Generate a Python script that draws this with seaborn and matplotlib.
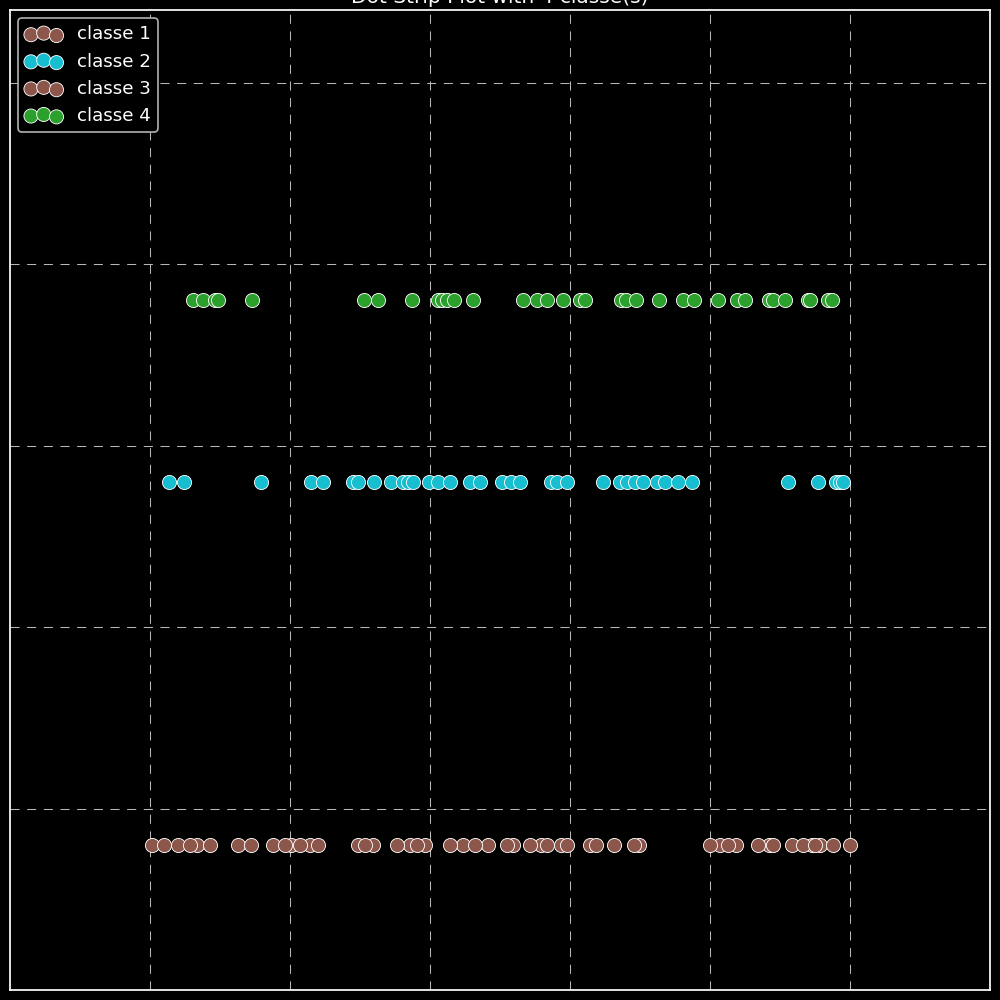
import matplotlib
matplotlib.use("Agg")
import matplotlib.pyplot as plt
import seaborn as sns
import pandas as pd

# ---- data ----
classes = ["classe 1", "classe 2", "classe 3", "classe 4"]
class_colors = ["#8c564b", "#17becf", "#8c564b", "#2ca02c"]
class_rows = [0.0, 2.0, 0.0, 3.0]

brown_x = [1.014, 1.100, 1.200, 1.286, 1.336, 1.429, 1.629, 1.721, 1.879, 1.964,
           2.007, 2.071, 2.143, 2.200, 2.486, 2.536, 2.593, 2.764, 2.857, 2.907,
           2.964, 3.143, 3.236, 3.321, 3.414, 3.550, 3.593, 3.714, 3.793, 3.836,
           3.936, 3.979, 4.143, 4.186, 4.314, 4.457, 4.493, 5.000, 5.071, 5.129,
           5.186, 5.343, 5.421, 5.450, 5.586, 5.664, 5.729, 5.750, 5.786, 5.879,
           6.000]
classe1_x = brown_x[0::2]
classe3_x = brown_x[1::2]
classe2_x = [1.136, 1.243, 1.793, 2.150, 2.236, 2.450, 2.486, 2.600, 2.721, 2.807,
             2.843, 2.879, 2.993, 3.057, 3.143, 3.286, 3.357, 3.514, 3.579, 3.643,
             3.864, 3.907, 3.979, 4.236, 4.357, 4.407, 4.464, 4.521, 4.621, 4.679,
             4.771, 4.871, 5.557, 5.771, 5.900, 5.929, 5.950]
classe4_x = [1.307, 1.379, 1.464, 1.486, 1.729, 2.529, 2.629, 2.871, 3.057, 3.086,
             3.121, 3.171, 3.307, 3.664, 3.764, 3.836, 3.950, 4.071, 4.107, 4.364,
             4.400, 4.471, 4.636, 4.807, 4.886, 5.057, 5.193, 5.250, 5.421, 5.450,
             5.536, 5.700, 5.714, 5.843, 5.871]
class_x = [classe1_x, classe2_x, classe3_x, classe4_x]

x_ticks = [1, 2, 3, 4, 5, 6]
y_ticks = [0.2, 1.2, 2.2, 3.2, 4.2]
title = f"Dot Strip Plot with {len(classes)} classe(s)"

# ---- plotting ----
plt.style.use("dark_background")
fig = plt.figure(figsize=(8, 8), dpi=125)
ax = fig.add_axes([0.01, 0.01, 0.98, 0.98])
ax.set_facecolor("black")
fig.patch.set_facecolor("black")

for name, xs, yv, col in zip(classes, class_x, class_rows, class_colors):
    df = pd.DataFrame({"x": xs, "y": [yv] * len(xs)})
    sns.scatterplot(data=df, x="x", y="y", color=col, s=66,
                    edgecolor="white", linewidth=0.5, ax=ax,
                    legend=False, label=name, zorder=3)

ax.set_xlim(0, 7)
ax.set_ylim(-0.8, 4.6)
ax.set_xticks(x_ticks)
ax.set_yticks(y_ticks)
ax.tick_params(length=0, labelbottom=False, labelleft=False)
ax.set_xlabel("")
ax.set_ylabel("")
ax.set_axisbelow(True)
ax.grid(True, color="#b8b8b8", linestyle=(0, (8.7, 7.3)), linewidth=0.6)
for sp in ax.spines.values():
    sp.set_color("white")
    sp.set_linewidth(1.0)

ax.set_title(title, color="white", fontsize=11.6, pad=4)
leg = ax.legend(loc="upper left", scatterpoints=3, fontsize=10.5,
                facecolor="black", edgecolor="#aaaaaa", framealpha=1,
                borderaxespad=0.45)
for t in leg.get_texts():
    t.set_color("white")

fig.savefig("out.png", dpi=125, facecolor="black")
